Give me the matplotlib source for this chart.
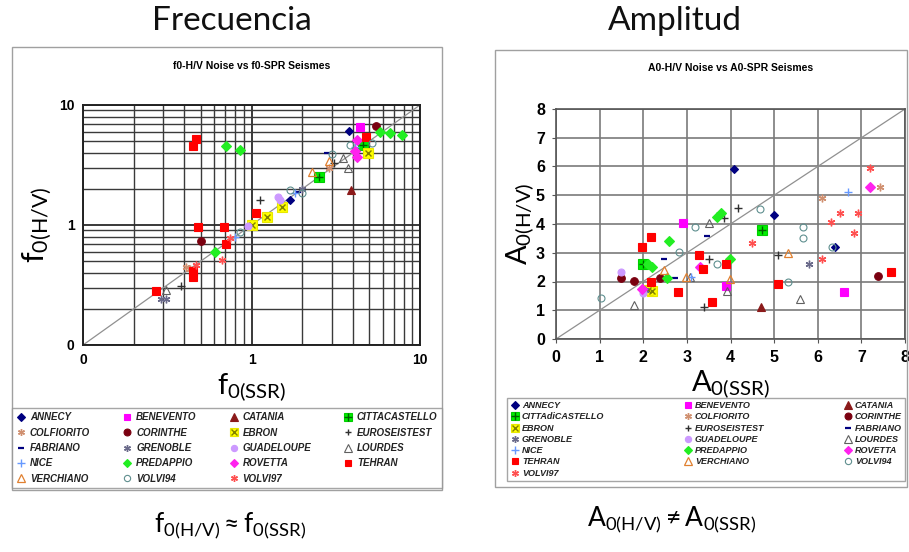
import matplotlib
matplotlib.use("Agg")
import matplotlib.pyplot as plt
from matplotlib.lines import Line2D
from matplotlib.patches import Rectangle
from matplotlib.legend_handler import HandlerTuple
from matplotlib.font_manager import FontProperties

plt.rcParams['mathtext.fontset'] = 'custom'
plt.rcParams['mathtext.rm'] = 'Lato'
plt.rcParams['mathtext.it'] = 'Lato:italic'
plt.rcParams['mathtext.bf'] = 'Lato:bold'

# ---------------- data ----------------
stations = ["ANNECY", "BENEVENTO", "CATANIA", "CITTACASTELLO", "COLFIORITO", "CORINTHE",
            "EBRON", "EUROSEISTEST", "FABRIANO", "GRENOBLE", "GUADELOUPE", "LOURDES",
            "NICE", "PREDAPPIO", "ROVETTA", "TEHRAN", "VERCHIANO", "VOLVI94", "VOLVI97"]
labels_amp = ["ANNECY", "BENEVENTO", "CATANIA", "CITTAdiCASTELLO", "COLFIORITO", "CORINTHE",
              "EBRON", "EUROSEISTEST", "FABRIANO", "GRENOBLE", "GUADELOUPE", "LOURDES",
              "NICE", "PREDAPPIO", "ROVETTA", "TEHRAN", "VERCHIANO", "VOLVI94", "VOLVI97"]

f_ssr = {
    "ANNECY": [3.8, 1.69], "BENEVENTO": [4.4], "CATANIA": [3.9],
    "CITTACASTELLO": [2.5, 4.6], "COLFIORITO": [0.41, 0.43, 2.9],
    "CORINTHE": [0.50, 5.5], "EBRON": [4.9, 1.51, 1.23, 1.0],
    "EUROSEISTEST": [1.12, 0.38, 3.1], "FABRIANO": [2.8, 1.9],
    "GRENOBLE": [0.29, 0.31, 2.0], "GUADELOUPE": [1.44, 1.48, 0.95],
    "LOURDES": [3.5, 3.76, 0.31], "NICE": [0.8, 1.8, 4.1],
    "PREDAPPIO": [0.71, 0.85, 5.8, 6.6, 7.8, 0.61], "ROVETTA": [4.2, 4.1, 4.2],
    "TEHRAN": [0.45, 0.47, 0.48, 0.69, 0.27, 0.45, 0.45, 1.07, 0.71, 4.8],
    "VERCHIANO": [2.28, 2.9], "VOLVI94": [1.69, 1.99, 3.85, 5.2, 0.85, 3.0],
    "VOLVI97": [0.67, 0.75, 0.47],
}
f_hv = {
    "ANNECY": [6.1, 1.61], "BENEVENTO": [6.6], "CATANIA": [1.96],
    "CITTACASTELLO": [2.53, 4.6], "COLFIORITO": [0.45, 0.43, 3.0],
    "CORINTHE": [0.73, 6.7], "EBRON": [3.96, 1.42, 1.17, 1.0],
    "EUROSEISTEST": [1.61, 0.31, 3.3], "FABRIANO": [3.95, 1.9],
    "GRENOBLE": [0.24, 0.24, 2.0], "GUADELOUPE": [1.72, 1.61, 0.98],
    "LOURDES": [3.6, 2.97, 0.29], "NICE": [0.8, 1.85, 4.5],
    "PREDAPPIO": [4.55, 4.2, 6.0, 5.8, 5.6, 0.60], "ROVETTA": [5.1, 4.1, 3.7],
    "TEHRAN": [4.55, 5.2, 0.97, 0.97, 0.28, 0.41, 0.37, 1.25, 0.70, 5.4],
    "VERCHIANO": [2.78, 3.4], "VOLVI94": [1.96, 1.84, 4.6, 4.8, 0.88, 3.9],
    "VOLVI97": [0.51, 0.78, 0.46],
}
a_ssr = {
    "ANNECY": [4.09, 5.0, 6.4], "BENEVENTO": [2.9, 3.89, 6.6], "CATANIA": [4.69],
    "CITTACASTELLO": [4.72, 2.0], "COLFIORITO": [6.09, 7.43],
    "CORINTHE": [1.49, 1.79, 2.39, 7.39], "EBRON": [2.2, 2.1],
    "EUROSEISTEST": [4.18, 3.5, 5.1, 3.4, 3.85], "FABRIANO": [2.48, 3.46, 2.73],
    "GRENOBLE": [5.79, 2.05], "GUADELOUPE": [1.5, 2.0],
    "LOURDES": [3.5, 1.79, 5.6, 3.92, 3.08], "NICE": [6.7, 3.1],
    "PREDAPPIO": [2.6, 3.69, 3.78, 3.98, 2.54, 2.21, 2.1], "ROVETTA": [7.2, 3.29, 1.98],
    "TEHRAN": [1.98, 2.18, 2.18, 2.79, 3.28, 3.38, 3.57, 3.89, 5.08, 7.69],
    "VERCHIANO": [5.31, 2.48, 2.98, 3.99],
    "VOLVI94": [1.03, 2.81, 3.18, 3.7, 4.68, 5.67, 5.67, 5.31, 6.32],
    "VOLVI97": [7.2, 6.3, 6.51, 6.92, 6.82, 4.5, 6.09],
}
a_hv = {
    "ANNECY": [5.91, 4.31, 3.21], "BENEVENTO": [4.02, 1.84, 1.62], "CATANIA": [1.12],
    "CITTACASTELLO": [3.79, 2.61], "COLFIORITO": [4.89, 5.30],
    "CORINTHE": [2.11, 2.03, 2.11, 2.20], "EBRON": [1.68, 1.70],
    "EUROSEISTEST": [4.54, 2.78, 2.92, 1.12, 4.2], "FABRIANO": [2.78, 3.58, 2.11],
    "GRENOBLE": [2.61, 1.7], "GUADELOUPE": [2.32, 1.6],
    "LOURDES": [4.02, 1.18, 1.39, 1.68, 2.15], "NICE": [5.10, 2.15],
    "PREDAPPIO": [3.42, 4.25, 4.39, 2.78, 2.11, 2.49, 2.6], "ROVETTA": [5.30, 2.52, 1.73],
    "TEHRAN": [3.21, 3.54, 1.99, 1.62, 2.92, 2.42, 1.30, 2.61, 1.90, 2.32],
    "VERCHIANO": [2.98, 2.40, 2.17, 2.08],
    "VOLVI94": [1.41, 3.01, 3.91, 2.61, 4.51, 3.91, 3.50, 1.99, 3.21],
    "VOLVI97": [5.94, 4.08, 4.39, 4.39, 3.70, 3.33, 2.78],
}

f_ticks = [0.1, 1, 10]
f_ticklabels = ["0", "1", "10"]
a_ticks = [0, 1, 2, 3, 4, 5, 6, 7, 8]

AST = (6, 2, 0)
# marker styles: list of (marker, facecolor, edgecolor, size, edgewidth)
styles = {
    "ANNECY": [("D", "#000080", "#000080", 4.5, 0.8)],
    "BENEVENTO": [("s", "#FF00FF", "#FF00FF", 5.5, 0.8)],
    "CATANIA": [("^", "#8B1A1A", "#8B1A1A", 6, 0.8)],
    "CITTACASTELLO": [("s", "#00EE00", "#00CC00", 6.5, 0.8), ("+", "none", "#006000", 6, 1.0)],
    "COLFIORITO": [(AST, "none", "#D09070", 5.5, 1.0)],
    "CORINTHE": [("o", "#7A0010", "#7A0010", 5.5, 0.8)],
    "EBRON": [("s", "#FFFF00", "#E8E800", 6.5, 0.8), ("x", "none", "#808000", 5, 1.0)],
    "EUROSEISTEST": [("+", "none", "#303030", 5.5, 1.0)],
    "FABRIANO": [("_", "none", "#000080", 5, 1.6)],
    "GRENOBLE": [(AST, "none", "#6A6A8A", 5.5, 1.0)],
    "GUADELOUPE": [("o", "#CC99FF", "#CC99FF", 5, 0.8)],
    "LOURDES": [("^", "none", "#606060", 6, 0.8)],
    "NICE": [("+", "none", "#6699FF", 6, 1.0)],
    "PREDAPPIO": [("D", "#22EE22", "#22EE22", 5, 0.8)],
    "ROVETTA": [("D", "#FF22EE", "#FF22EE", 5, 0.8)],
    "TEHRAN": [("s", "#FF0000", "#FF0000", 5.5, 0.8)],
    "VERCHIANO": [("^", "none", "#E08030", 6, 0.9)],
    "VOLVI94": [("o", "none", "#5F8F8F", 5, 0.8)],
    "VOLVI97": [(AST, "none", "#FF5050", 5.5, 1.0)],
}

W, H = 909, 552
fig = plt.figure(figsize=(W / 100, H / 100), dpi=100)


def fx(px):
    return px / W


def fy(py):
    return 1 - py / H


def frame(x0, y0, x1, y1, color="#A0A0A0", lw=1.0):
    fig.add_artist(Rectangle((fx(x0), fy(y1)), fx(x1 - x0), (y1 - y0) / H,
                             transform=fig.transFigure, fill=False, ec=color, lw=lw))


def plot_station(ax, name, xs, ys):
    for (m, fc, ec, ms, mew) in styles[name]:
        ax.plot(xs, ys, linestyle="none", marker=m, markerfacecolor=fc,
                markeredgecolor=ec, markersize=ms, markeredgewidth=mew, zorder=3)


def handle(name):
    hs = []
    for (m, fc, ec, ms, mew) in styles[name]:
        hs.append(Line2D([], [], linestyle="none", marker=m, markerfacecolor=fc,
                         markeredgecolor=ec, markersize=ms * 0.9, markeredgewidth=mew))
    return tuple(hs) if len(hs) > 1 else hs[0]


tick_font = FontProperties(family="Liberation Sans", weight="bold", size=10)
leg_font = FontProperties(family="Liberation Sans", weight="bold", style="italic", size=7)
leg_font_r = FontProperties(family="Liberation Sans", weight="bold", style="italic", size=6.5)

# frames
frame(12, 47, 442, 490)
frame(495, 50, 907, 487)

# ---------------- left: frequency ----------------
axL = fig.add_axes([fx(83), fy(345), fx(420 - 83), (345 - 105) / H])
axL.set_xscale("log")
axL.set_yscale("log")
axL.set_xlim(0.1, 10)
axL.set_ylim(0.1, 10)
axL.plot([0.1, 10], [0.1, 10], color="#909090", lw=0.9, zorder=2)
for name in stations:
    plot_station(axL, name, f_ssr[name], f_hv[name])
axL.set_xticks(f_ticks)
axL.set_xticklabels(f_ticklabels)
axL.set_yticks(f_ticks)
axL.set_yticklabels(f_ticklabels)
for lab in axL.get_xticklabels() + axL.get_yticklabels():
    lab.set_fontproperties(tick_font)
axL.tick_params(which="both", length=0, pad=6)
axL.grid(True, which="major", color="#2a2a2a", lw=1.3, zorder=1)
axL.grid(True, which="minor", color="#3a3a3a", lw=1.0, zorder=1)
axL.set_axisbelow(True)
for s in axL.spines.values():
    s.set_color("#222222")
    s.set_linewidth(1.4)
axL.set_title("f0-H/V Noise vs f0-SPR Seismes", fontproperties=FontProperties(
    family="Liberation Sans", weight="bold", size=7.5), pad=26)
axL.set_xlabel(r"$\mathrm{f_{0(SSR)}}$", fontsize=21, labelpad=3)
axL.set_ylabel(r"$\mathrm{f_{0(H/V)}}$", fontsize=22, labelpad=4)

# ---------------- right: amplitude ----------------
axR = fig.add_axes([fx(556), fy(339), fx(905 - 556), (339 - 109) / H])
axR.set_xlim(0, 8)
axR.set_ylim(0, 8)
axR.plot([0, 8], [0, 8], color="#909090", lw=0.9, zorder=2)
for name in stations:
    plot_station(axR, name, a_ssr[name], a_hv[name])
axR.set_xticks(a_ticks)
axR.set_yticks(a_ticks)
for lab in axR.get_xticklabels() + axR.get_yticklabels():
    lab.set_fontproperties(FontProperties(family="Liberation Sans", weight="bold", size=11.5))
axR.tick_params(which="both", length=3, color="#555555", pad=5)
axR.grid(True, color="#7a7a7a", lw=1.2, zorder=1)
axR.set_axisbelow(True)
for s in axR.spines.values():
    s.set_color("#555555")
    s.set_linewidth(1.2)
axR.set_title("A0-H/V Noise vs A0-SPR Seismes", fontproperties=FontProperties(
    family="Liberation Sans", weight="bold", size=7.5), pad=27)
axR.set_xlabel(r"$\mathrm{A_{0(SSR)}}$", fontsize=21, labelpad=2)
axR.set_ylabel(r"$\mathrm{A_{0(H/V)}}$", fontsize=21, labelpad=0)

# ---------------- legends ----------------
order_L = ["ANNECY", "COLFIORITO", "FABRIANO", "NICE", "VERCHIANO",
           "BENEVENTO", "CORINTHE", "GRENOBLE", "PREDAPPIO", "VOLVI94",
           "CATANIA", "EBRON", "GUADELOUPE", "ROVETTA", "VOLVI97",
           "CITTACASTELLO", "EUROSEISTEST", "LOURDES", "TEHRAN"]
legL = fig.legend([handle(n) for n in order_L], order_L, loc="upper left",
                  bbox_to_anchor=(fx(12), fy(408), fx(442 - 12), 0.0), mode="expand",
                  ncol=4, prop=leg_font, frameon=True, fancybox=False,
                  edgecolor="#909090", handlelength=1.0, handletextpad=0.4,
                  labelspacing=0.55, borderpad=0.45, borderaxespad=0.0,
                  handler_map={tuple: HandlerTuple(ndivide=1)})
legL.get_frame().set_linewidth(1.0)
for t in legL.get_texts():
    t.set_color("#222222")

order_R = ["ANNECY", "CITTACASTELLO", "EBRON", "GRENOBLE", "NICE", "TEHRAN", "VOLVI97",
           "BENEVENTO", "COLFIORITO", "EUROSEISTEST", "GUADELOUPE", "PREDAPPIO", "VERCHIANO",
           "CATANIA", "CORINTHE", "FABRIANO", "LOURDES", "ROVETTA", "VOLVI94"]
lab_R = [labels_amp[stations.index(n)] for n in order_R]
legR = fig.legend([handle(n) for n in order_R], lab_R, loc="upper left",
                  bbox_to_anchor=(fx(507), fy(398), fx(905 - 507), 0.0), mode="expand",
                  ncol=3, prop=leg_font_r, frameon=True, fancybox=False,
                  edgecolor="#909090", handlelength=1.0, handletextpad=0.3,
                  labelspacing=0.25, borderpad=0.35, borderaxespad=0.0,
                  handler_map={tuple: HandlerTuple(ndivide=1)})
legR.get_frame().set_linewidth(1.0)
for t in legR.get_texts():
    t.set_color("#222222")

# ---------------- headings ----------------
head = dict(family="Lato", fontsize=24, ha="center", va="center", color="#111111")
fig.text(fx(232), fy(21), "Frecuencia", **head)
fig.text(fx(675), fy(21), "Amplitud", **head)
fig.text(fx(230), fy(526), r"$\mathrm{f_{0(H/V)}\approx f_{0(SSR)}}$", fontsize=19,
         ha="center", va="center")
fig.text(fx(672), fy(520), r"$\mathrm{A_{0(H/V)}\neq A_{0(SSR)}}$", fontsize=19,
         ha="center", va="center")

fig.savefig("out.png", dpi=100)
